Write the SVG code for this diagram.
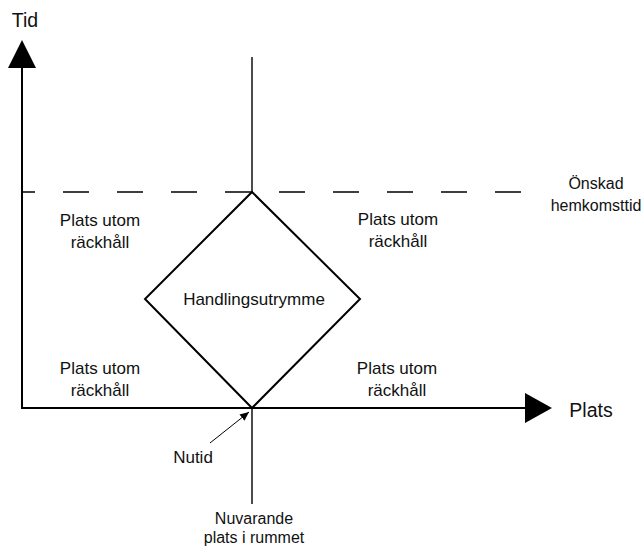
<svg xmlns="http://www.w3.org/2000/svg" width="643" height="549" viewBox="0 0 643 549">
<defs>
<style>
text{font-family:"Liberation Sans",Arial,sans-serif;font-size:17px;fill:#111;text-anchor:middle}
.big{font-size:19.5px}
.sm{font-size:16px}
.ax{stroke:#000;stroke-width:2;fill:none}
.thin{stroke:#000;stroke-width:1.4;fill:none}
</style>
<marker id="ah" markerWidth="10" markerHeight="10" refX="9" refY="5" orient="auto" markerUnits="userSpaceOnUse">
<path d="M0,1 L9,5 L0,9 Z" fill="#000"/>
</marker>
</defs>
<rect width="643" height="549" fill="#fff"/>
<g id="connectors">
<line class="ax" x1="22" y1="409" x2="22" y2="66"/>
<polygon points="22,40 8,68 36,68" fill="#000"/>
<line class="ax" x1="22" y1="408" x2="526" y2="408"/>
<polygon points="552,408 525,393 525,423" fill="#000"/>
<line class="thin" x1="252" y1="57" x2="252" y2="192"/>
<line class="thin" x1="252" y1="408" x2="252" y2="504"/>
<line class="thin" x1="22" y1="192" x2="523" y2="192" stroke-dasharray="26 28" stroke-dashoffset="-41"/>
<line x1="210" y1="443" x2="249" y2="412" stroke="#000" stroke-width="1" marker-end="url(#ah)"/>
</g>
<g id="diamond">
<polygon class="ax" points="252,192 360,299 252,408 145,299"/>
<text x="254" y="305">Handlingsutrymme</text>
</g>
<g id="tid"><text class="big" x="25" y="27">Tid</text></g>
<g id="plats"><text class="big" x="591" y="417">Plats</text></g>
<g id="onskad"><text class="sm" x="596" y="189">Önskad</text><text class="sm" x="596" y="211">hemkomsttid</text></g>
<g id="tl"><text x="100" y="226">Plats utom</text><text x="100" y="248">räckhåll</text></g>
<g id="tr"><text x="398" y="225">Plats utom</text><text x="398" y="247">räckhåll</text></g>
<g id="bl"><text x="100" y="374">Plats utom</text><text x="100" y="396">räckhåll</text></g>
<g id="br"><text x="397" y="374">Plats utom</text><text x="397" y="396">räckhåll</text></g>
<g id="nutid"><text x="193" y="463">Nutid</text></g>
<g id="nuvarande"><text class="sm" x="254" y="524">Nuvarande</text><text class="sm" x="254" y="543">plats i rummet</text></g>
</svg>
